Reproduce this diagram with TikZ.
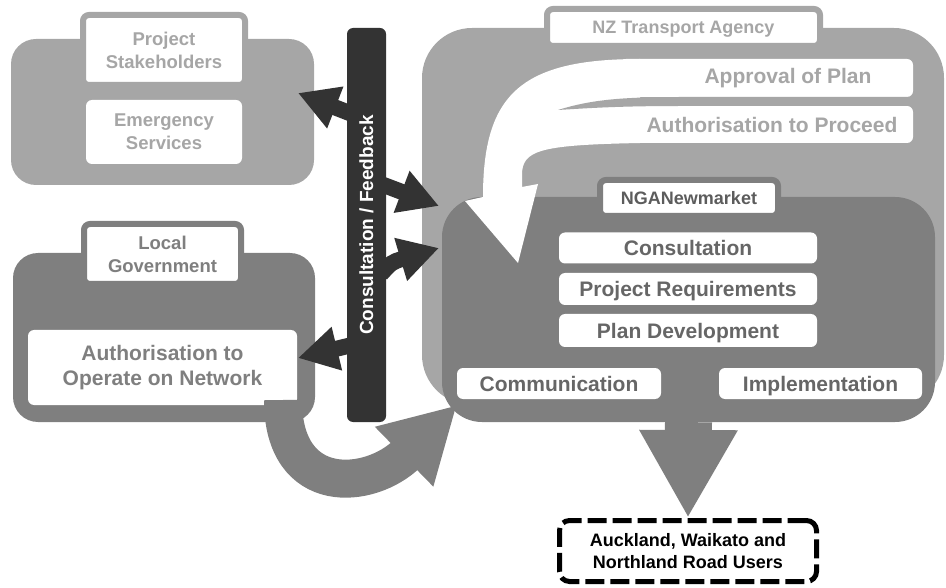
\documentclass[tikz,border=0pt]{standalone}
\usepackage{fontspec}
\setmainfont{Liberation Sans}
\usetikzlibrary{arrows.meta}

\definecolor{lightgrey}{HTML}{A6A6A6}
\definecolor{midgrey}{HTML}{7F7F7F}
\definecolor{darkgrey}{HTML}{333333}
\definecolor{itemgrey}{HTML}{666666}

\begin{document}
\begin{tikzpicture}[x=1pt,y=-1pt,
	every node/.style={inner sep=0pt,align=center},
	fs/.style 2 args={font=\fontsize{#1}{#2}\selectfont\bfseries},
	grp/.style={rounded corners=25pt},
	tab/.style={draw,line width=6pt,fill=white,rounded corners=6pt},
	box/.style={fill=white,rounded corners=6pt},
	item/.style={box,text=itemgrey,fs={21}{25},text height=19pt,text depth=4pt,minimum height=31pt},
	fb/.style={draw=darkgrey,line width=16pt,-{Triangle[length=40pt,width=42pt]}}]
	\useasboundingbox (0,0) rectangle (946,588);
	% groups
	\node[grp,fill=lightgrey,minimum width=303pt,minimum height=146pt] (stakegrp) at (162.5,112) {};
	\node[grp,fill=midgrey,minimum width=302pt,minimum height=169pt] (govgrp) at (164,337.5) {};
	\node[grp,rounded corners=50pt,fill=lightgrey,minimum width=522pt,minimum height=377pt] (nztagrp) at (683,216.5) {};
	\node[grp,rounded corners=40pt,fill=midgrey,minimum width=493pt,minimum height=225pt] (ngagrp) at (688.5,309.5) {};
	% tabs and boxes
	\node[tab,draw=lightgrey,text=lightgrey,fs={18.5}{23},minimum width=162pt,minimum height=70pt] (stake) at (164,50) {Project\\Stakeholders};
	\node[box,text=lightgrey,fs={18.5}{23},minimum width=156pt,minimum height=64pt] (emerg) at (164,132) {Emergency\\Services};
	\node[tab,draw=midgrey,text=midgrey,fs={18.5}{23},minimum width=157pt,minimum height=60pt] (gov) at (162.5,254) {Local\\Government};
	\node[box,text=midgrey,fs={21}{25},minimum width=269pt,minimum height=75pt] (operate) at (162.5,367.5) {Authorisation to\\Operate on Network};
	\node[tab,draw=lightgrey,text=lightgrey,fs={18}{20},text height=16pt,text depth=3pt,minimum width=273pt,minimum height=37pt] (nzta) at (683.5,27.5) {NZ Transport Agency};
	\node[tab,draw=midgrey,text=darkgrey!80,fs={18}{20},text height=16pt,text depth=3pt,minimum width=178pt,minimum height=36pt] (nga) at (689,198) {NGANewmarket};
	\node[item,minimum width=258pt] (consult) at (688,248) {Consultation};
	\node[item,minimum width=258pt,minimum height=32pt] (reqs) at (688,289) {Project Requirements};
	\node[item,minimum width=258pt,minimum height=33pt] (plan) at (688,330.5) {Plan Development};
	\node[item,minimum width=204pt] (comms) at (559,383.5) {Communication};
	\node[item,minimum width=203pt] (impl) at (820.5,383.5) {Implementation};
	% approval arrow
	\fill[white,rounded corners=6pt] (620,59) rectangle (913,97);
	\fill[white,rounded corners=6pt] (620,106) rectangle (913,143);
	\fill[white] (640,59) .. controls (520,59) and (483,95) .. (483,197) -- (465,201) -- (518,263)
		-- (538,184) -- (522,187) -- (522,175) .. controls (522,150) and (540,145) .. (640,143) -- cycle;
	\fill[lightgrey] (558,110) .. controls (590,100) and (620,97) .. (680,97) -- (920,97)
		-- (920,106) -- (680,106) .. controls (620,106) and (590,108) .. cycle;
	\node[text=lightgrey,fs={21}{25}] (approval) at (788,78) {Approval of Plan};
	\node[text=lightgrey,fs={21}{25}] (proceed) at (772,124.5) {Authorisation to Proceed};
	% feedback bar
	\node[fill=darkgrey,text=white,rounded corners=6pt,rotate=90,fs={19}{22},minimum width=394pt,minimum height=39pt] (bar) at (366.5,225) {Consultation / Feedback};
	\coordinate (fbstake) at (352,114);
	\coordinate (fbnzta) at (381,184);
	\coordinate (fbnga) at (381,274);
	\coordinate (fbgov) at (352,345);
	\coordinate (stakein) at (298,93);
	\coordinate (nztain) at (439,206);
	\coordinate (ngain) at (439,248);
	\coordinate (govin) at (298,358);
	\draw[fb] (fbstake) -- (stakein);
	\draw[fb] (fbnzta) -- (nztain);
	\draw[fb] (fbnga) .. controls (392,262) .. (ngain);
	\draw[fb] (fbgov) -- (govin);
	% road users
	\node[draw=black,line width=5pt,dash pattern=on 19pt off 6pt,rounded corners=10pt,fs={18}{22},minimum width=257pt,minimum height=61pt] (users) at (688,551) {Auckland, Waikato and\\Northland Road Users};
	\draw[line width=47pt,midgrey,-{Triangle[length=88pt,width=92pt]}] (ngagrp.south) -- (users.north);
	\coordinate (govout) at (283,400);
	\coordinate (ngaout) at (457,405);
	\draw[line width=38pt,midgrey,-{Triangle[length=74pt,width=78pt]}] (govout) .. controls (283,498) and (370,490) .. (ngaout);
\end{tikzpicture}
\end{document}
